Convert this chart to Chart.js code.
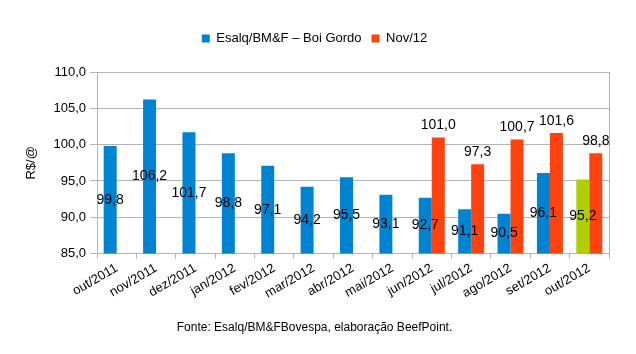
<!DOCTYPE html>
<html>
<head>
<meta charset="utf-8">
<script src="https://cdn.jsdelivr.net/npm/chart.js@4"></script>
<style>
  html, body { margin: 0; padding: 0; background: #fff; }
  #wrap { width: 636px; height: 354px; }
</style>
</head>
<body>
<div id="wrap"><canvas id="chart" width="636" height="354"></canvas></div>
<script>
// Chart data
const categories = ['out/2011', 'nov/2011', 'dez/2011', 'jan/2012', 'fev/2012', 'mar/2012', 'abr/2012',
  'mai/2012', 'jun/2012', 'jul/2012', 'ago/2012', 'set/2012', 'out/2012'];
const boiGordo = [99.8, 106.2, 101.7, 98.8, 97.1, 94.2, 95.5, 93.1, 92.7, 91.1, 90.5, 96.1, 95.2];
const nov12 = [null, null, null, null, null, null, null, null, 101.0, 97.3, 100.7, 101.6, 98.8];
const yTicks = [85, 90, 95, 100, 105, 110];

const BLUE = '#0084d1';
const RED = '#ff420e';
const GREEN = '#aecf00';
const GRID = '#b3b3b3';
const FONT = 'Liberation Sans, Arial, sans-serif';

const fmt = v => v.toFixed(1).replace('.', ',');

// Draws value labels: blue centred in the bar, red above the bar
const valueLabels = {
  id: 'valueLabels',
  afterDatasetsDraw(chart) {
    const ctx = chart.ctx;
    const bottom = chart.scales.y.bottom;
    ctx.save();
    ctx.font = '14px ' + FONT;
    ctx.fillStyle = '#000';
    ctx.textAlign = 'center';
    chart.data.datasets.forEach((ds, i) => {
      const meta = chart.getDatasetMeta(i);
      meta.data.forEach((bar, j) => {
        const v = ds.data[j];
        if (v == null) return;
        if (i === 0) {
          ctx.textBaseline = 'middle';
          ctx.fillText(fmt(v), bar.x, (bar.y + bottom) / 2);
        } else {
          ctx.textBaseline = 'bottom';
          ctx.fillText(fmt(v), bar.x, bar.y - 5);
        }
      });
    });
    ctx.restore();
  }
};

// Right border of the plot area
const rightBorder = {
  id: 'rightBorder',
  beforeDatasetsDraw(chart) {
    const { ctx, chartArea } = chart;
    ctx.save();
    ctx.strokeStyle = GRID;
    ctx.lineWidth = 1;
    ctx.beginPath();
    ctx.moveTo(chartArea.right + 0.5, chartArea.top);
    ctx.lineTo(chartArea.right + 0.5, chartArea.bottom + 5);
    ctx.stroke();
    ctx.restore();
  }
};

// Extra room under the legend
const legendMargin = {
  id: 'legendMargin',
  beforeInit(chart) {
    const fit = chart.legend.fit;
    chart.legend.fit = function () {
      fit.bind(chart.legend)();
      this.height += 17;
    };
  }
};

new Chart(document.getElementById('chart'), {
  type: 'bar',
  data: {
    labels: categories,
    datasets: [
      {
        label: 'Esalq/BM&F – Boi Gordo',
        data: boiGordo,
        backgroundColor: c => (c.dataIndex === boiGordo.length - 1 ? GREEN : BLUE),
        categoryPercentage: 0.66,
        barPercentage: 1.0
      },
      {
        label: 'Nov/12',
        data: nov12,
        backgroundColor: RED,
        categoryPercentage: 0.66,
        barPercentage: 1.0
      }
    ]
  },
  options: {
    responsive: false,
    animation: false,
    layout: { padding: { left: 20, right: 27, top: 22, bottom: 19 } },
    plugins: {
      legend: {
        position: 'top',
        labels: {
          boxWidth: 8,
          boxHeight: 8,
          padding: 10,
          color: '#000',
          font: { size: 13, family: FONT }
        }
      },
      title: {
        display: true,
        position: 'bottom',
        text: 'Fonte: Esalq/BM&FBovespa, elaboração BeefPoint.',
        color: '#000',
        padding: { top: 8, bottom: 0 },
        font: { size: 12, weight: 'normal', family: FONT }
      },
      tooltip: { enabled: false }
    },
    scales: {
      x: {
        grid: {
          drawOnChartArea: false,
          drawTicks: true,
          tickLength: 5,
          color: GRID
        },
        border: { color: GRID },
        ticks: {
          maxRotation: 30,
          minRotation: 30,
          color: '#000',
          padding: 2,
          font: { size: 13, family: FONT }
        },
        afterFit: scale => { scale.height = 59; }
      },
      y: {
        min: 85,
        max: 110,
        afterBuildTicks: scale => { scale.ticks = yTicks.map(v => ({ value: v })); },
        grid: { color: GRID, tickLength: 7 },
        border: { color: GRID },
        ticks: {
          color: '#000',
          padding: 4,
          font: { size: 13, family: FONT },
          callback: v => fmt(v)
        },
        title: {
          display: true,
          text: 'R$/@',
          color: '#000',
          font: { size: 13, family: FONT }
        },
        afterFit: scale => { scale.width = 77; }
      }
    }
  },
  plugins: [valueLabels, rightBorder, legendMargin]
});
</script>
</body>
</html>
